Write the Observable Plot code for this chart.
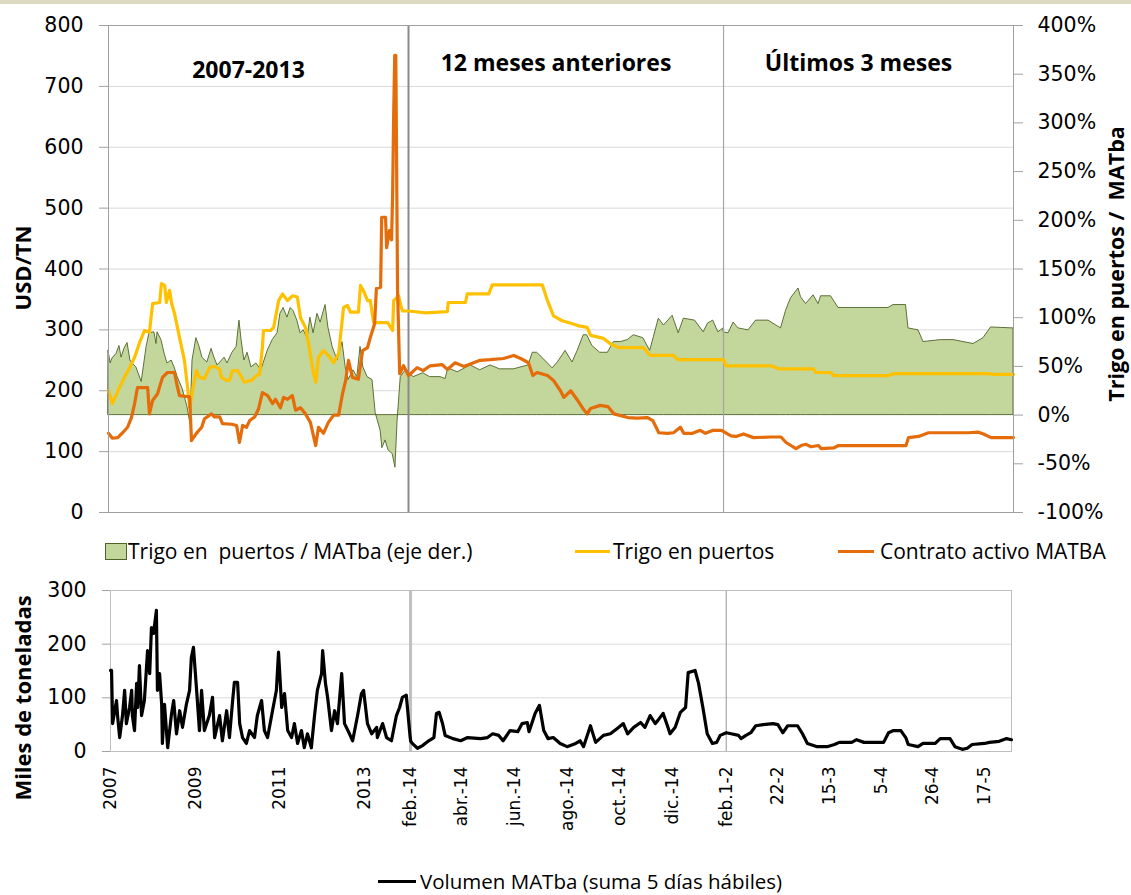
<!DOCTYPE html>
<html>
<head>
<meta charset="utf-8">
<script src="https://cdn.jsdelivr.net/npm/d3@7"></script>
<script src="https://cdn.jsdelivr.net/npm/@observablehq/plot@0.6"></script>
<style>
  body { margin: 0; background: #fff; font-family: "Open Sans", sans-serif; }
  #wrap { position: relative; width: 1131px; height: 895px; overflow: hidden; background: #fff; }
  .abs { position: absolute; }
  .vt { position: absolute; transform: translate(-50%, -50%) rotate(-90deg); white-space: pre; font: bold 22px "Open Sans", sans-serif; line-height: 1; color: #000; }
  .lg { position: absolute; font: 21px "Open Sans", sans-serif; color: #000; white-space: pre; height: 24px; line-height: 24px; }
</style>
</head>
<body>
<div id="wrap">
  <div class="abs" style="left:0;top:0;width:1131px;height:4px;background:#ddd9c3"></div>
  <div id="top" class="abs" style="left:0;top:0"></div>
  <div id="bot" class="abs" style="left:0;top:570px"></div>
  <div class="vt" style="left:22px;top:268px">USD/TN</div>
  <div class="vt" style="left:1116px;top:264px;font-size:21.5px">Trigo en puertos /  MATba</div>
  <div class="vt" style="left:22px;top:698px">Miles de toneladas</div>

  <div class="abs" style="left:105px;top:543px;width:20px;height:15px;background:#c3d69b;border:1px solid #4f6228"></div>
  <div class="lg" style="left:128px;top:539px">Trigo en  puertos / MATba (eje der.)</div>
  <div class="abs" style="left:575px;top:550px;width:35px;height:3px;background:#ffc000"></div>
  <div class="lg" style="left:613px;top:539px">Trigo en puertos</div>
  <div class="abs" style="left:838px;top:550px;width:36px;height:3px;background:#e46c0a"></div>
  <div class="lg" style="left:880px;top:539px">Contrato activo MATBA</div>

  <div class="abs" style="left:378px;top:880px;width:38px;height:3px;background:#000"></div>
  <div class="lg" style="left:420px;top:871px;height:20px;line-height:20px;font-size:20.5px">Volumen MATba (suma 5 días hábiles)</div>
</div>
<script>
// ---------------- DATA ----------------
// Segment 1: months since Jan 2007; segment 2: days since 1 Feb 2014; segment 3: days since 1 Feb 2015
const segmentLabels = ["2007-2013", "12 meses anteriores", "Últimos 3 meses"];

// Trigo en puertos (USD/TN)
const puertos1 = [[0,200],[1.1,179],[3.1,205],[4.5,222],[6,238],[7.4,255],[8.8,279],[10.2,299],[11.6,296],[12.5,343],[14.5,345],[15,376],[15.9,373],[16.4,345],[17.3,365],[17.9,343],[18.7,327],[20.1,288],[21.5,250],[22.4,206],[23,172],[23.8,200],[24.9,233],[25.8,222],[27.2,220],[28.6,238],[30,240],[31.5,235],[32,222],[33.4,217],[34.3,217],[35.1,233],[36.6,233],[37.7,222],[38.5,214],[40.5,217],[41.9,225],[42.8,227],[43.6,271],[43.9,299],[45.9,299],[46.8,304],[48.2,348],[49.3,359],[50.7,348],[52.1,356],[53.5,354],[54.4,320],[55.8,304],[56.7,277],[58.1,228],[58.7,214],[59.5,255],[60.9,266],[62.3,258],[63.8,246],[65.2,261],[66.6,337],[67.7,340],[68.6,329],[70.8,329],[71.4,373],[72.2,365],[73.4,348],[74.2,348],[75.1,312],[79.1,312],[80.5,299],[80.8,348],[82.2,356],[82.8,340],[83.3,331],[85,331]];
const puertos2 = [[0,331],[20,328],[45,330],[46,345],[66,345],[68,359],[93,359],[97,374],[155,374],[161,348],[168,323],[178,315],[190,310],[196,307],[207,304],[211,291],[226,286],[234,277],[243,271],[272,271],[280,258],[307,258],[312,251],[365,251]];
const puertos3 = [[0,251],[1,241],[19,241],[22,236],[36,236],[37,230],[43,230],[44,225],[66,225],[68,228],[106,228],[108,227],[116,227]];

// Contrato activo MATBA (USD/TN)
const matba1 = [[0,130],[1.1,122],[2.6,123],[4,131],[5.4,140],[6.5,156],[7.4,179],[8.2,205],[11.1,205],[11.6,162],[12.5,184],[13.9,195],[15.3,222],[16.7,230],[18.7,230],[19.3,212],[20.1,192],[23,190],[23.5,118],[24.9,130],[26.4,140],[27.2,154],[29.2,162],[30,157],[31.5,157],[32.3,146],[34.9,145],[36.3,143],[37.1,115],[38,143],[39.1,140],[40,151],[41.4,157],[42.5,170],[43.6,197],[45.1,192],[46.5,179],[47.3,186],[48.7,172],[49.6,189],[50.7,186],[52.1,192],[53,168],[54.4,172],[55.8,162],[57.2,148],[58.7,110],[59.5,140],[60.9,130],[62.3,148],[63.8,160],[65.2,160],[66.3,195],[67.2,217],[68,250],[69.1,222],[70.8,219],[72,266],[73.4,271],[74.2,288],[75.4,310],[75.9,368],[77.1,370],[77.4,485],[78.5,485],[78.8,435],[79.6,463],[80.2,448],[80.5,523],[80.8,655],[81.1,751],[81.4,751],[81.9,365],[82.5,228],[83.6,241],[85,225]];
const matba2 = [[0,225],[10,238],[17,233],[25,241],[39,243],[45,235],[54,246],[64,240],[83,250],[95,251],[110,253],[122,258],[130,253],[139,246],[144,225],[149,230],[161,225],[168,217],[176,200],[180,189],[188,200],[196,184],[202,171],[207,162],[211,171],[222,176],[231,174],[238,162],[254,156],[265,155],[277,156],[283,151],[290,131],[300,130],[307,131],[315,140],[319,130],[329,130],[338,135],[344,130],[353,135],[362,135],[365,133]];
const matba3 = [[0,133],[3,126],[5,125],[8,129],[12,123],[19,124],[23,124],[25,115],[29,105],[31,110],[33,112],[35,108],[38,110],[39,105],[44,106],[46,110],[73,110],[74,123],[78,125],[82,131],[98,131],[102,132],[104,129],[107,123],[116,123]];

// Trigo en puertos / MATba (%, right axis)
const ratio1 = [[0,66],[0.6,53],[1.1,58],[2.3,63],[3.1,71],[3.7,59],[4.5,68],[5.4,74],[6.2,56],[6.8,53],[7.9,49],[9.4,34],[10.8,70],[11.6,84],[13,85],[13.6,73],[13.9,85],[15,77],[15.9,63],[16.7,53],[17.9,56],[18.7,49],[19.6,39],[21,27],[22.4,8],[23.2,-9],[23.8,56],[24.9,79],[25.8,70],[26.6,59],[28,54],[29.2,68],[30,59],[30.9,51],[32.9,59],[33.7,53],[35.1,64],[36.3,70],[37.1,97],[37.7,77],[38.5,56],[39.4,64],[40.5,49],[41.9,53],[43.3,46],[45.1,66],[46.5,77],[47.9,84],[48.7,104],[49.6,110],[50.7,100],[51.6,110],[52.4,107],[53.5,97],[54.4,84],[55.3,87],[56.4,79],[57.2,100],[58.1,84],[59.2,104],[60.1,95],[61.5,113],[62.3,90],[63.5,70],[64.9,56],[66.3,75],[67.2,49],[68,36],[69.4,46],[70.5,39],[71.4,70],[72.2,49],[73.4,39],[74.8,36],[75.7,2],[77.1,-16],[77.6,-34],[78.5,-26],[79.3,-36],[80.5,-40],[81.3,-54],[81.9,-6],[82.8,39],[84.2,46],[85,45]];
const ratio2 = [[0,43],[6,39],[17,43],[25,39],[37,39],[43,37],[46,48],[57,44],[72,51],[83,46],[95,51],[106,47],[122,47],[139,51],[144,64],[149,64],[156,58],[167,48],[173,54],[182,66],[190,54],[196,66],[203,82],[207,82],[213,71],[222,64],[231,64],[238,75],[246,75],[254,77],[261,82],[272,79],[280,66],[290,99],[296,92],[306,102],[313,84],[319,99],[332,97],[342,85],[347,94],[353,97],[359,85],[365,89]];
const ratio3 = [[0,85],[2,84],[4,95],[6,89],[10,87],[13,97],[18,97],[23,89],[25,107],[27,120],[30,130],[31,121],[33,114],[36,123],[38,114],[39,122],[43,122],[46,110],[66,110],[68,113],[73,113],[74,89],[78,87],[80,75],[87,77],[92,77],[96,75],[100,73],[104,79],[107,90],[116,89]];

// Volumen MATba (miles de toneladas, suma 5 días hábiles)
const vol1 = [[0,151],[0.3,151],[0.6,52],[1.7,95],[2,67],[2.6,26],[3.4,67],[4,114],[4.5,52],[5.4,82],[6,114],[6.2,67],[6.8,39],[7.4,127],[7.7,82],[8.2,160],[8.8,67],[9.6,95],[10.5,188],[11.1,145],[11.6,231],[12.2,220],[13,263],[13.3,114],[13.9,145],[14.5,88],[14.7,15],[15.3,88],[16.2,7],[17.3,71],[17.9,95],[18.7,33],[19.6,76],[20.4,45],[21.5,88],[22.4,114],[22.9,175],[23.5,194],[24.4,114],[25.2,39],[25.8,114],[26.6,39],[28,67],[28.9,101],[29.5,26],[30.9,67],[31.7,20],[32.9,76],[33.7,26],[34.6,95],[35.1,129],[36,129],[36.6,52],[37.4,26],[38.5,15],[39.4,39],[40.8,26],[41.6,67],[42.8,95],[43.6,39],[44.5,26],[45.9,76],[47,114],[47.6,185],[48.5,82],[49.3,108],[50.2,39],[51.3,26],[52.1,52],[53,15],[54.1,39],[54.9,7],[55.8,33],[56.9,7],[57.8,67],[58.6,114],[59.8,145],[60.1,188],[60.9,127],[61.5,101],[62.6,39],[63.5,76],[64.3,52],[65.5,145],[66.3,52],[67.7,33],[68.6,20],[70,67],[71.1,108],[71.7,114],[72.8,52],[74,33],[75.4,45],[75.6,26],[77.1,52],[78.2,26],[79.6,20],[81,67],[81.9,82],[82.7,101],[83.8,105],[84.9,26],[85,22]];
const vol2 = [[0,20],[2,15],[8,6],[14,11],[21,20],[27,26],[30,71],[33,73],[37,52],[40,30],[49,24],[58,20],[66,26],[81,24],[89,26],[95,33],[102,30],[107,20],[115,39],[124,37],[129,52],[135,54],[137,37],[144,71],[149,86],[154,39],[159,24],[165,26],[173,15],[181,9],[191,15],[196,20],[200,9],[208,48],[214,17],[223,30],[231,33],[239,43],[246,52],[251,33],[258,45],[266,54],[271,45],[277,67],[283,52],[286,58],[292,71],[297,48],[300,33],[306,45],[312,73],[318,82],[321,147],[329,151],[333,127],[338,82],[343,33],[349,15],[354,17],[358,30],[365,35]];
const vol3 = [[0,35],[2,33],[5,30],[6,24],[8,30],[10,35],[12,48],[15,50],[19,52],[21,50],[23,35],[25,48],[29,48],[31,33],[33,15],[37,9],[41,9],[44,13],[46,17],[51,17],[53,22],[56,17],[64,17],[66,35],[68,39],[71,39],[73,26],[74,13],[78,9],[80,15],[85,15],[87,24],[91,24],[93,9],[96,4],[98,6],[100,13],[105,15],[107,17],[111,19],[114,24],[116,22]];

// Axis ticks
const usdTicks = [0, 100, 200, 300, 400, 500, 600, 700, 800];
const pctTicks = [-100, -50, 0, 50, 100, 150, 200, 250, 300, 350, 400];
const volTicks = [0, 100, 200, 300];
const xTickDates = ["2007-01-01","2009-01-01","2011-01-01","2013-01-01","2014-02-01","2014-04-01","2014-06-01","2014-08-01","2014-10-01","2014-12-01","2015-02-01","2015-02-22","2015-03-15","2015-04-05","2015-04-26","2015-05-17"];
const xTickLabels = ["2007","2009","2011","2013","feb.-14","abr.-14","jun.-14","ago.-14","oct.-14","dic.-14","feb.1-2","22-2","15-3","5-4","26-4","17-5"];

// ---------------- BUILD ----------------
const S1 = Date.UTC(2007, 0, 1), S2 = Date.UTC(2014, 1, 1), S3 = Date.UTC(2015, 1, 1), S4 = Date.UTC(2015, 4, 28);
const DAY = 864e5, MONTH = (S2 - S1) / 85;
const segDomain = [S1, S2, S3, S4].map(t => new Date(t));
const toRows = (a, b, c) => [
  ...a.map(([o, v]) => ({date: new Date(S1 + o * MONTH), v})),
  ...b.map(([o, v]) => ({date: new Date(S2 + o * DAY), v})),
  ...c.map(([o, v]) => ({date: new Date(S3 + o * DAY), v}))
];
const puertos = toRows(puertos1, puertos2, puertos3);
const matba = toRows(matba1, matba2, matba3);
const ratio = toRows(ratio1, ratio2, ratio3);
const volumen = toRows(vol1, vol2, vol3);

// right axis (%) expressed on the left axis (USD): -100% -> 0, 400% -> 800
const BASE = 160, K = 1.6;
const pctToUsd = p => BASE + K * p;

const W = 1131;
const TICKFONT = "'DejaVu Sans', sans-serif";
const rangeFor = (l, r, fr) => fr.map(f => l + f * (r - l));
const tickMap = new Map(xTickDates.map((d, i) => [+new Date(d), xTickLabels[i]]));

const topPlot = Plot.plot({
  width: W, height: 530,
  marginTop: 25, marginBottom: 18, marginLeft: 108, marginRight: 118,
  style: {fontFamily: TICKFONT, fontSize: "20.5px", color: "#000", background: "transparent", overflow: "visible"},
  x: {type: "utc", domain: segDomain, range: rangeFor(108, 1013, [0, 0.3315, 0.6796, 1]), axis: null, label: null},
  y: {domain: [0, 800], axis: null, label: null},
  marks: [
    Plot.gridY(usdTicks, {stroke: "#d9d9d9", strokeOpacity: 1}),
    Plot.areaY(ratio, {x: "date", y1: () => BASE, y2: d => pctToUsd(d.v), fill: "#c3d69b", stroke: "#4f6228", strokeWidth: 0.9}),
    Plot.ruleX([segDomain[1]], {stroke: "#8a8a8a", strokeWidth: 2}),
    Plot.ruleX([segDomain[2]], {stroke: "#a6a6a6", strokeWidth: 1.2}),
    Plot.lineY(puertos, {x: "date", y: "v", stroke: "#ffc000", strokeWidth: 3.2}),
    Plot.lineY(matba, {x: "date", y: "v", stroke: "#e46c0a", strokeWidth: 3.2}),
    Plot.frame({stroke: "#a0a0a0"}),
    Plot.axisY({anchor: "left", ticks: usdTicks, tickSize: 9, tickPadding: 16, stroke: "#a0a0a0", fill: "#000", label: null}),
    Plot.axisY({anchor: "right", ticks: pctTicks.map(pctToUsd), tickFormat: v => Math.round((v - BASE) / K) + "%", tickSize: 9, tickPadding: 15, stroke: "#a0a0a0", fill: "#000", label: null}),
    Plot.text(segmentLabels, {
      x: (d, i) => new Date((+segDomain[i] + +segDomain[i + 1]) / 2),
      y: (d, i) => i === 0 ? 726 : 737,
      text: d => d, dx: -10, fontWeight: "bold", fontSize: 23, fontFamily: "'Open Sans', sans-serif", fill: "#000"
    })
  ]
});
document.getElementById("top").appendChild(topPlot);

const botPlot = Plot.plot({
  width: W, height: 270,
  marginTop: 20, marginBottom: 89, marginLeft: 110, marginRight: 120,
  style: {fontFamily: TICKFONT, fontSize: "20.5px", color: "#000", background: "transparent", overflow: "visible"},
  x: {type: "utc", domain: segDomain, range: rangeFor(110, 1011, [0, 0.333, 0.6834, 1]), axis: null, label: null},
  y: {domain: [0, 300], axis: null, label: null},
  marks: [
    Plot.gridY(volTicks, {stroke: "#d9d9d9", strokeOpacity: 1}),
    Plot.ruleX([segDomain[1]], {stroke: "#c0c0c0", strokeWidth: 3}),
    Plot.ruleX([segDomain[2]], {stroke: "#a6a6a6", strokeWidth: 1.2}),
    Plot.frame({stroke: "#bfbfbf"}),
    Plot.lineY(volumen, {x: "date", y: "v", stroke: "#000", strokeWidth: 3.2}),
    Plot.axisY({anchor: "left", ticks: volTicks, tickSize: 8, tickPadding: 16, stroke: "#a0a0a0", fill: "#000", label: null}),
    Plot.axisX({anchor: "bottom", ticks: xTickDates.map(d => new Date(d)), tickFormat: d => tickMap.get(+d), tickRotate: -90, tickSize: 0, tickPadding: 15, fontSize: 17, fill: "#000", label: null})
  ]
});
document.getElementById("bot").appendChild(botPlot);
</script>
</body>
</html>
